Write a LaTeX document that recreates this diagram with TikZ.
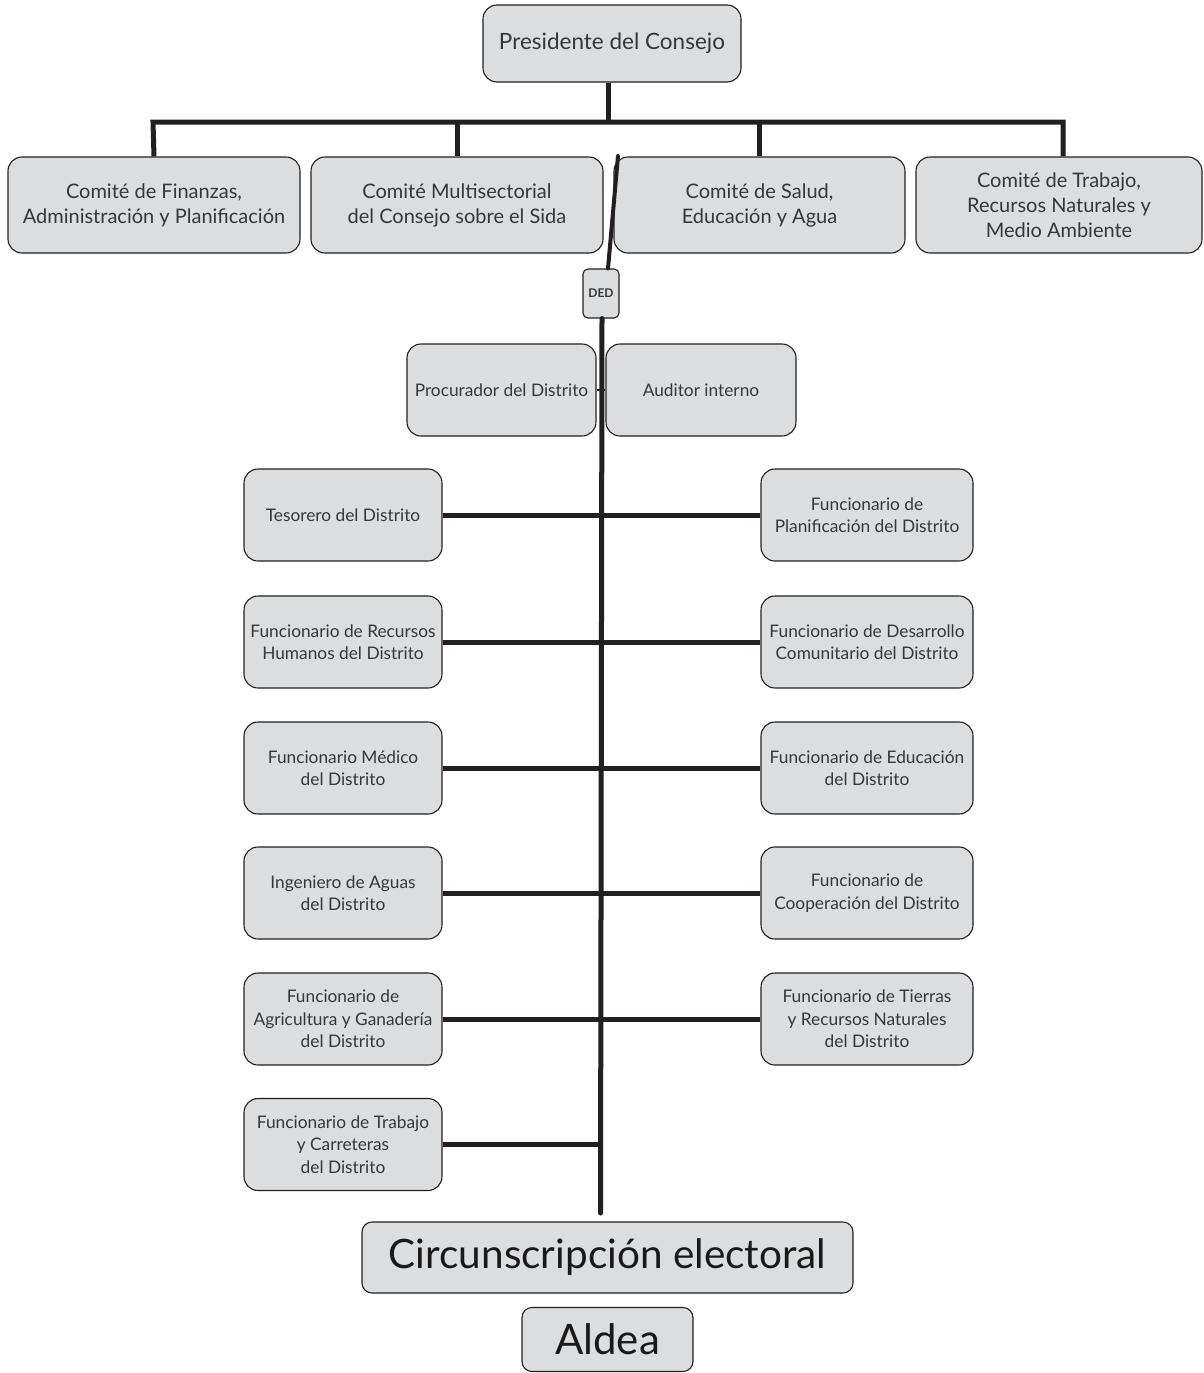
\documentclass[tikz,border=0pt]{standalone}
\usepackage{fontspec}
\setmainfont{Lato}
\definecolor{boxgray}{RGB}{220,221,223}
\definecolor{txtgray}{RGB}{55,55,55}
\definecolor{linek}{RGB}{35,31,32}
\begin{document}
\begin{tikzpicture}[x=1pt,y=-1pt,
  box/.style={draw=linek, line width=1.1pt, fill=boxgray, rounded corners=14pt,
    align=center, text=txtgray, inner sep=0pt},
  fcom/.style={font=\fontsize{20}{25}\selectfont},
  fsub/.style={font=\fontsize{17.3}{22.5}\selectfont},
  conn/.style={draw=linek, line width=5pt},
  thinconn/.style={draw=linek, line width=4pt, line cap=round}]
\useasboundingbox (0,0) rectangle (1203,1373);
% top
\node[box, minimum width=258pt, minimum height=77pt, font=\fontsize{22.5}{26}\selectfont] (pres) at (612,43.5) {Presidente del Consejo};
\node[box, fcom, minimum width=292pt, minimum height=96pt] (fin) at (154,205) {Comité de Finanzas,\\Administración y Planificación};
\node[box, fcom, minimum width=292pt, minimum height=96pt] (mul) at (457,205) {Comité Multisectorial\\del Consejo sobre el Sida};
\node[box, fcom, minimum width=291pt, minimum height=96pt] (sal) at (759.5,205) {Comité de Salud,\\Educación y Agua};
\node[box, fcom, minimum width=286pt, minimum height=96pt] (tra) at (1059,205) {Comité de Trabajo,\\Recursos Naturales y\\Medio Ambiente};
% bus
\coordinate (busL) at (153,122);
\draw[conn] ([xshift=-4pt]pres.south) -- ++(0,40);
\draw[conn, line join=miter] (fin.north) -- (busL) -- (1063,122) -- ([xshift=4pt]tra.north);
\draw[conn] (mul.north) -- ++(0,-35);
\draw[conn] (sal.north) -- ++(0,-35);
% DED and main line
\coordinate (mtop) at (618,156);
\coordinate (mbot) at (600.5,1213);
\node[box, rounded corners=5pt, minimum width=36pt, minimum height=49pt, font=\fontsize{12}{14}\selectfont\bfseries] (ded) at (601,293.5) {DED};
\draw[thinconn] (mtop) -- ([xshift=7pt]ded.north);
\node[box, fsub, minimum width=189pt, minimum height=92pt] (proc) at (501.5,390) {Procurador del Distrito};
\node[box, fsub, minimum width=190pt, minimum height=92pt] (aud) at (701,390) {Auditor interno};
\draw[conn, line cap=round] ([xshift=1pt]ded.south) -- (mbot);
\draw[draw=linek, line width=2pt] (proc.east) -- (aud.west);
% left column
\foreach \n/\y/\t in {l1/515/{Tesorero del Distrito},
  l2/642/{Funcionario de Recursos\\Humanos del Distrito},
  l3/768/{Funcionario Médico\\del Distrito},
  l4/893/{Ingeniero de Aguas\\del Distrito},
  l5/1019/{Funcionario de\\Agricultura y Ganadería\\del Distrito},
  l6/1144.5/{Funcionario de Trabajo\\y Carreteras\\del Distrito}}
  \node[box, fsub, minimum width=198pt, minimum height=92pt] (\n) at (343,\y) {\t};
% right column
\foreach \n/\y/\t in {r1/515/{Funcionario de\\Planificación del Distrito},
  r2/642/{Funcionario de Desarrollo\\Comunitario del Distrito},
  r3/768/{Funcionario de Educación\\del Distrito},
  r4/893/{Funcionario de\\Cooperación del Distrito},
  r5/1019/{Funcionario de Tierras\\y Recursos Naturales\\del Distrito}}
  \node[box, fsub, minimum width=212pt, minimum height=92pt] (\n) at (867,\y) {\t};
\foreach \a/\b in {l1/r1,l2/r2,l3/r3,l4/r4,l5/r5}
  \draw[conn] (\a.east) -- (\b.west);
\draw[conn] (l6.east) -- (l6.east -| mbot);
% bottom
\node[box, rounded corners=10pt, minimum width=491pt, minimum height=71pt, font=\fontsize{40.5}{44}\selectfont, text=black!90] (circ) at (607.5,1257.5) {Circunscripción electoral};
\node[box, rounded corners=10pt, minimum width=171pt, minimum height=64pt, font=\fontsize{42}{44}\selectfont, text=black!90] (aldea) at (607.5,1339.5) {Aldea};
\end{tikzpicture}
\end{document}
